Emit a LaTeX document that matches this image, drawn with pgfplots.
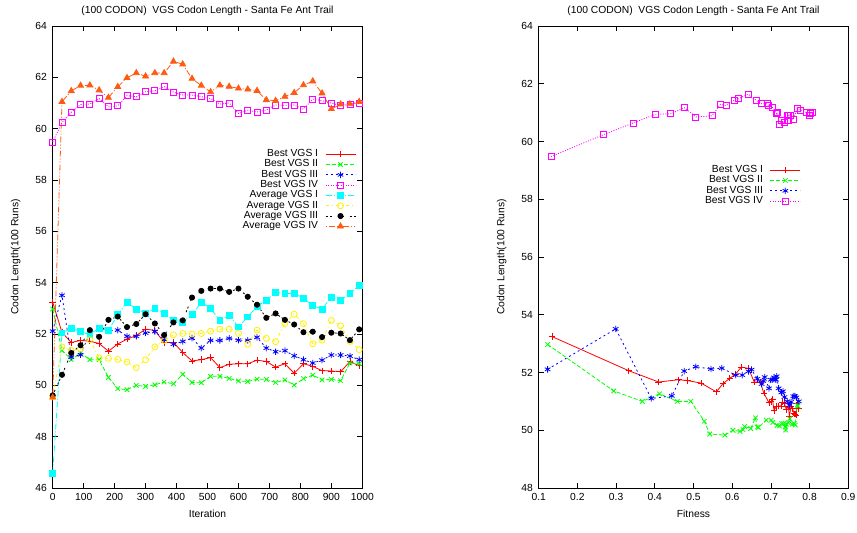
\documentclass[border=0pt]{standalone}
\usepackage{pgfplots}
\pgfplotsset{compat=1.18}
\usepackage{pgfplotstable}
\usepackage{fontspec}
\setmainfont{Liberation Sans}

\definecolor{gpred}{RGB}{255,0,0}
\definecolor{gpgreen}{RGB}{0,255,0}
\definecolor{gpblue}{RGB}{0,0,255}
\definecolor{gpmag}{RGB}{255,0,255}
\definecolor{gpcyan}{RGB}{0,255,255}
\definecolor{gpyellow}{RGB}{255,240,0}
\definecolor{gporange}{RGB}{255,90,20}

\pgfplotstableread{
it  b1    b2    b3    b4    a1    a2    a3    a4    f1    f2    f3    f4
0   53.24 52.97 52.11 59.48 46.57 49.55 49.61 49.53 0.135 0.123 0.123 0.132
30  52.06 51.36 53.51 60.24 52.04 51.50 50.41 61.05 0.333 0.294 0.299 0.268
60  51.67 51.00 51.10 60.64 52.22 51.36 51.26 61.47 0.410 0.368 0.391 0.344
90  51.75 51.26 51.19 60.94 52.10 51.41 51.56 61.68 0.461 0.412 0.444 0.401
120 51.72 51.00 52.05 60.96 51.97 51.78 52.15 61.69 0.485 0.458 0.476 0.441
150 51.63 51.00 52.20 61.17 52.23 51.07 51.89 61.50 0.520 0.493 0.506 0.477
180 51.33 50.31 52.12 60.85 52.14 51.05 52.55 61.21 0.559 0.528 0.545 0.506
210 51.61 49.87 52.15 60.89 52.75 51.01 52.68 61.63 0.576 0.542 0.573 0.548
240 51.80 49.83 51.91 61.29 53.24 50.91 52.27 61.98 0.594 0.581 0.609 0.569
270 51.94 50.00 51.91 61.24 52.97 50.69 52.39 62.17 0.608 0.602 0.626 0.584
300 52.19 49.96 52.04 61.44 52.81 51.00 52.77 62.04 0.624 0.620 0.642 0.606
330 52.14 50.02 52.10 61.48 53.00 51.50 52.41 62.17 0.642 0.628 0.650 0.616
360 51.67 50.13 51.78 61.64 52.81 51.75 51.96 62.17 0.657 0.632 0.665 0.641
390 51.67 50.06 51.60 61.42 52.55 51.97 52.45 62.62 0.672 0.648 0.676 0.662
420 51.28 50.43 51.71 61.31 52.46 52.02 52.53 62.51 0.682 0.660 0.680 0.675
450 50.95 50.11 51.84 61.31 52.75 52.00 53.42 61.95 0.695 0.665 0.684 0.690
480 51.00 50.10 51.45 61.25 53.24 52.02 53.68 61.68 0.700 0.668 0.695 0.693
510 51.08 50.35 51.75 61.17 53.00 52.11 53.77 61.43 0.704 0.688 0.700 0.705
540 50.69 50.35 51.75 60.96 52.52 52.19 53.77 61.69 0.708 0.701 0.705 0.714
570 50.82 50.27 51.83 61.00 52.72 52.19 53.64 61.64 0.714 0.705 0.708 0.716
600 50.84 50.17 51.76 60.59 52.28 52.02 53.77 61.57 0.720 0.716 0.711 0.723
630 50.84 50.15 51.75 60.72 52.67 51.60 53.45 61.53 0.726 0.722 0.713 0.727
660 50.98 50.24 51.87 60.65 53.07 52.15 53.14 61.48 0.730 0.728 0.715 0.735
690 50.93 50.23 51.45 60.73 53.32 51.83 52.63 61.12 0.735 0.733 0.720 0.744
720 50.71 50.11 51.31 60.92 53.62 51.70 52.80 61.09 0.740 0.737 0.727 0.745
750 50.84 50.21 51.35 60.91 53.58 52.41 52.55 61.25 0.745 0.740 0.731 0.750
780 50.47 50.01 51.15 60.92 53.58 52.77 52.37 61.40 0.748 0.738 0.735 0.742
810 50.84 50.26 51.00 60.76 53.40 52.40 52.07 61.70 0.752 0.745 0.742 0.758
840 50.74 50.40 50.87 61.15 53.10 51.62 52.09 61.85 0.756 0.749 0.748 0.768
870 50.57 50.21 50.98 61.09 52.97 51.76 51.88 61.38 0.760 0.755 0.752 0.777
900 50.56 50.23 51.18 61.00 53.44 52.53 52.05 60.77 0.763 0.760 0.758 0.792
930 50.53 50.18 51.18 60.89 53.32 52.32 52.02 60.95 0.765 0.763 0.762 0.799
960 50.93 50.87 51.14 60.96 53.58 51.71 51.76 60.96 0.768 0.768 0.766 0.803
990 50.76 50.84 51.00 61.00 53.90 51.39 52.18 61.05 0.771 0.770 0.772 0.808
}\data

\pgfplotsset{
  sB1/.style={color=gpred, solid, line width=0.8bp, mark=+, mark size=3.2bp, mark options={solid}},
  sB2/.style={color=gpgreen, line width=0.8bp, dash pattern=on 4bp off 2bp, mark=x, mark size=3.2bp, mark options={solid}},
  sB3/.style={color=gpblue, line width=0.8bp, dash pattern=on 2bp off 3bp, mark=asterisk, mark size=3.2bp, mark options={solid}},
  sB4/.style={color=gpmag, line width=0.8bp, dash pattern=on 1bp off 1.5bp, mark=square, mark size=3bp, mark options={solid}},
  sA1/.style={color=gpcyan, line width=0.8bp, dash pattern=on 6bp off 2bp on 1bp off 2bp, mark=square*, mark size=2.9bp, mark options={solid}},
  sA2/.style={color=gpyellow, line width=0.8bp, dash pattern=on 3bp off 3bp on 1bp off 3bp, mark=o, mark size=3bp, mark options={solid}},
  sA3/.style={color=black, line width=0.8bp, dash pattern=on 2bp off 2bp on 2bp off 6bp, mark=*, mark size=2.6bp, mark options={solid}},
  sA4/.style={color=gporange, line width=0.8bp, dash pattern=on 1bp off 2bp on 6bp off 2bp on 1bp off 2bp, mark=triangle*, mark size=3.4bp, mark options={solid}},
  common/.style={
    scale only axis, width=309.6bp, height=462bp, clip=false,
    axis line style={line width=0.9bp, black},
    tick style={line width=0.7bp, black},
    major tick length=5bp,
    /pgf/number format/assume math mode=true,
    /pgf/number format/set thousands separator={},
    title={(100 CODON)\ \ VGS Codon Length - Santa Fe Ant Trail},
    ylabel={Codon Length(100 Runs)},
    every axis title/.style={at={(0.5,1)}, anchor=center, yshift=15.5bp},
    every axis x label/.style={at={(0.5,0)}, anchor=center, yshift=-26bp},
    every axis y label/.style={at={(0,0.5)}, xshift=-37bp, rotate=90, anchor=center},
    xticklabel style={yshift=-1.5bp},
    yticklabel style={xshift=-2.3bp},
    legend cell align=right,
    legend plot pos=right,
    legend style={draw=none, fill=none, inner sep=0pt, column sep=7bp,
      nodes={inner sep=0pt, text height=7.6bp, text depth=2.7bp}},
    legend image code/.code={\draw[mark repeat=2,mark phase=2] plot coordinates {(0bp,0bp)(15bp,0bp)(30bp,0bp)};},
  }
}

\begin{document}
\begin{tikzpicture}[font=\fontsize{10.3bp}{12bp}\selectfont]
\useasboundingbox (0,0) rectangle (857bp,533bp);
\begin{axis}[common, at={(52.7bp,45bp)}, anchor=south west,
  xmin=0, xmax=1000, ymin=46, ymax=64,
  xtick={0,100,200,300,400,500,600,700,800,900,1000},
  xticklabels={0,100,200,300,400,500,600,700,800,900,1000},
  ytick={46,48,50,52,54,56,58,60,62,64},
  xlabel={Iteration},
  legend style={at={(0.98,0.734)}, anchor=north east}]
\addplot[sB1] table[x=it,y=b1]{\data}; \addlegendentry{Best VGS I}
\addplot[sB2] table[x=it,y=b2]{\data}; \addlegendentry{Best VGS II}
\addplot[sB3] table[x=it,y=b3]{\data}; \addlegendentry{Best VGS III}
\addplot[sB4] table[x=it,y=b4]{\data}; \addlegendentry{Best VGS IV}
\addplot[sA1] table[x=it,y=a1]{\data}; \addlegendentry{Average VGS I}
\addplot[sA2] table[x=it,y=a2]{\data}; \addlegendentry{Average VGS II}
\addplot[sA3] table[x=it,y=a3]{\data}; \addlegendentry{Average VGS III}
\addplot[sA4] table[x=it,y=a4]{\data}; \addlegendentry{Average VGS IV}
\end{axis}
\begin{axis}[common, at={(538.7bp,45bp)}, anchor=south west,
  xmin=0.1, xmax=0.9, ymin=48, ymax=64,
  xtick={0.1,0.2,0.3,0.4,0.5,0.6,0.7,0.8,0.9},
  xticklabels={0.1,0.2,0.3,0.4,0.5,0.6,0.7,0.8,0.9},
  ytick={48,50,52,54,56,58,60,62,64},
  xlabel={Fitness},
  legend style={at={(0.847,0.6995)}, anchor=north east}]
\addplot[sB1] table[x=f1,y=b1]{\data}; \addlegendentry{Best VGS I}
\addplot[sB2] table[x=f2,y=b2]{\data}; \addlegendentry{Best VGS II}
\addplot[sB3] table[x=f3,y=b3]{\data}; \addlegendentry{Best VGS III}
\addplot[sB4] table[x=f4,y=b4]{\data}; \addlegendentry{Best VGS IV}
\end{axis}
\end{tikzpicture}
\end{document}
